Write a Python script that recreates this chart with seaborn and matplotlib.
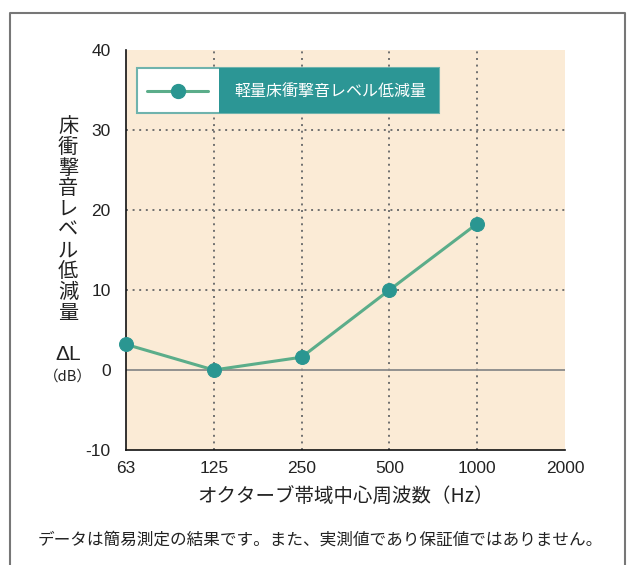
import matplotlib
matplotlib.use('Agg')
import matplotlib.pyplot as plt
import seaborn as sns
import pandas as pd
from matplotlib.patches import Rectangle
from matplotlib.lines import Line2D

# data
freq_labels = ["63", "125", "250", "500", "1000", "2000"]
measured_freqs = ["63", "125", "250", "500", "1000"]
delta_l = [3.2, 0.0, 1.6, 10.0, 18.3]
y_ticks = [-10, 0, 10, 20, 30, 40]
series_name = "軽量床衝撃音レベル低減量"
y_label = "床衝撃音レベル低減量"

sns.set_theme(style="white")
plt.rcParams['font.family'] = ['Noto Sans CJK JP', 'DejaVu Sans']

LINE = "#5bad8a"
DOT = "#2a9691"
BG = "#fbebd6"
NUM_FONT = ['Liberation Sans', 'DejaVu Sans']

df = pd.DataFrame({
    "pos": [freq_labels.index(f) for f in measured_freqs],
    "dl": delta_l,
})

fig = plt.figure(figsize=(6.3, 5.65), dpi=100)
ax = fig.add_axes([126 / 630, 115 / 565, 439 / 630, 400 / 565])
ax.set_facecolor(BG)

# grid
dots = dict(color="#707070", lw=1.4, ls=(0, (1, 2.4)), zorder=1)
for i in range(1, len(freq_labels) - 1):
    ax.axvline(i, **dots)
for v in y_ticks[2:-1]:
    ax.axhline(v, **dots)
ax.axhline(0, color="#8a8a8a", lw=1.3, zorder=1)

sns.lineplot(data=df, x="pos", y="dl", ax=ax, color=LINE, lw=2.2,
             marker="o", markersize=10, markerfacecolor=DOT,
             markeredgecolor=DOT, zorder=3, clip_on=False)

ax.set_xlim(0, len(freq_labels) - 1)
ax.set_ylim(y_ticks[0], y_ticks[-1])
ax.set_xticks(range(len(freq_labels)))
ax.set_xticklabels(freq_labels, fontsize=12.5, color="#222222", family=NUM_FONT)
ax.set_yticks(y_ticks)
ax.set_yticklabels([str(v) for v in y_ticks], fontsize=12.5, color="#222222", family=NUM_FONT)
ax.tick_params(axis="both", length=0)
ax.tick_params(axis="y", pad=11)
ax.tick_params(axis="x", pad=8)
ax.set_xlabel("オクターブ帯域中心周波数（Hz）", fontsize=14, labelpad=8, color="#222222")
ax.set_ylabel("")
for s in ["top", "right"]:
    ax.spines[s].set_visible(False)
for s in ["left", "bottom"]:
    ax.spines[s].set_color("#111111")
    ax.spines[s].set_linewidth(1.2)

# legend box (figure pixels)
W, H = 630, 565
def fx(x):
    return x / W
def fy(y):
    return 1 - y / H

fig.patches.append(Rectangle((fx(137), fy(113)), fx(302), 45 / H, transform=fig.transFigure,
                             facecolor="white", edgecolor="#6fb3ad", lw=1.5, zorder=5))
fig.patches.append(Rectangle((fx(219), fy(113)), fx(220), 45 / H, transform=fig.transFigure,
                             facecolor="#2c9695", edgecolor="none", zorder=6))
fig.lines.append(Line2D([fx(147), fx(208)], [fy(91), fy(91)], transform=fig.transFigure,
                        color=LINE, lw=2.2, zorder=7))
fig.lines.append(Line2D([fx(178)], [fy(91)], transform=fig.transFigure, marker="o",
                        markersize=10, color=DOT, zorder=8))
fig.text(fx(330), fy(91), series_name, color="white", fontsize=11.5,
         ha="center", va="center", zorder=9)

# vertical y label
fig.text(fx(68), fy(220), "\n".join(y_label),
         fontsize=14.5, ha="center", va="center", linespacing=0.98, color="#222222")
fig.text(fx(68), fy(355), "ΔL", fontsize=15, ha="center", va="center", color="#222222",
         family=NUM_FONT)
fig.text(fx(68), fy(377), "（dB）", fontsize=10.5, ha="center", va="center", color="#222222")

# footnote
fig.text(fx(320), fy(540), "データは簡易測定の結果です。また、実測値であり保証値ではありません。",
         fontsize=12, ha="center", va="center", color="#222222")

# outer frame
frame_kw = dict(transform=fig.transFigure, color="#777777", lw=1.5)
fig.lines.append(Line2D([fx(10), fx(10), fx(625), fx(625)], [0, fy(13), fy(13), 0], **frame_kw))

fig.savefig("out.png", dpi=100)
